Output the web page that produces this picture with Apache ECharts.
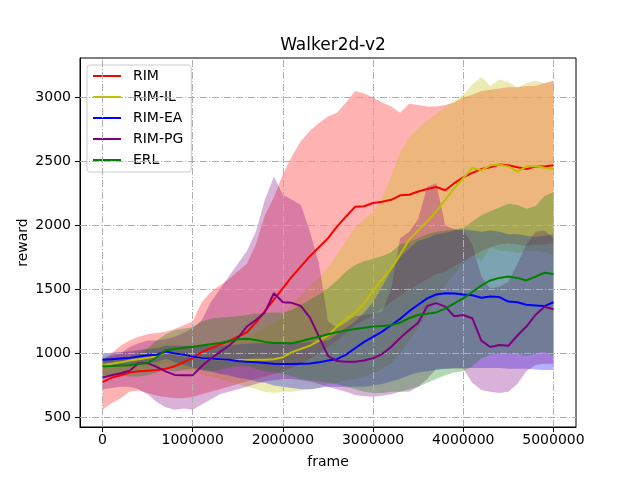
<!DOCTYPE html>
<html>
<head>
<meta charset="utf-8">
<title>Walker2d-v2</title>
<script src="https://cdn.jsdelivr.net/npm/echarts@6/dist/echarts.min.js"></script>
<style>
  html, body { margin: 0; padding: 0; background: #fff; }
  #chart { width: 640px; height: 480px; }
</style>
</head>
<body>
<div id="chart"></div>
<script>
// x positions (frames), one every 100000
const frames = [0, 100000, 200000, 300000, 400000, 500000, 600000, 700000, 800000, 900000,
  1000000, 1100000, 1200000, 1300000, 1400000, 1500000, 1600000, 1700000, 1800000, 1900000,
  2000000, 2100000, 2200000, 2300000, 2400000, 2500000, 2600000, 2700000, 2800000, 2900000,
  3000000, 3100000, 3200000, 3300000, 3400000, 3500000, 3600000, 3700000, 3800000, 3900000,
  4000000, 4100000, 4200000, 4300000, 4400000, 4500000, 4600000, 4700000, 4800000, 4900000, 5000000];

const xTicks = [0, 1000000, 2000000, 3000000, 4000000, 5000000];
const yTicks = [500, 1000, 1500, 2000, 2500, 3000];

// RIM
const rimMean = [775, 810, 830, 850, 860, 865, 870, 880, 900, 930,
  965, 1010, 1040, 1070, 1095, 1130, 1165, 1240, 1330, 1420,
  1510, 1600, 1680, 1760, 1830, 1900, 1990, 2070, 2145, 2150,
  2175, 2185, 2200, 2235, 2240, 2265, 2285, 2300, 2275, 2330,
  2375, 2410, 2440, 2455, 2475, 2470, 2455, 2440, 2460, 2460, 2470];
const rimUpper = [950, 1000, 1060, 1100, 1130, 1150, 1160, 1170, 1190, 1220,
  1250, 1400, 1480, 1530, 1580, 1640, 1700, 1850, 2080, 2220,
  2400, 2540, 2660, 2740, 2800, 2850, 2880, 2960, 3050, 3030,
  3000, 2960, 2930, 2880, 2950, 2940, 2930, 2930, 2940, 2960,
  3000, 3020, 3050, 3060, 3070, 3080, 3080, 3090, 3090, 3110, 3130];
const rimLower = [560, 610, 650, 700, 710, 690, 670, 660, 650, 650,
  660, 680, 700, 720, 740, 760, 780, 800, 820, 840,
  860, 890, 920, 960, 1000, 1050, 1100, 1160, 1220, 1260,
  1300, 1350, 1400, 1450, 1500, 1540, 1580, 1620, 1640, 1680,
  1720, 1760, 1800, 1830, 1850, 1860, 1850, 1840, 1850, 1850, 1860];

// RIM-IL
const ilMean = [910, 920, 930, 945, 955, 965, 975, 1010, 995, 985,
  975, 965, 958, 952, 948, 948, 948, 950, 950, 955,
  970, 1010, 1035, 1060, 1100, 1140, 1210, 1270, 1320, 1390,
  1490, 1580, 1660, 1770, 1890, 1960, 2030, 2110, 2200, 2290,
  2370, 2450, 2430, 2470, 2475, 2460, 2420, 2460, 2465, 2450, 2440];
const ilUpper = [990, 1000, 1010, 1020, 1030, 1040, 1060, 1080, 1070, 1060,
  1060, 1070, 1080, 1090, 1100, 1110, 1130, 1160, 1200, 1240,
  1300, 1380, 1460, 1530, 1590, 1670, 1770, 1880, 1980, 2050,
  2100, 2220, 2380, 2570, 2690, 2760, 2820, 2870, 2930, 2970,
  3020, 3100, 3160, 3090, 3140, 3120, 3080, 3110, 3130, 3110, 3120];
const ilLower = [830, 840, 850, 860, 870, 880, 890, 920, 900, 880,
  860, 840, 820, 800, 780, 760, 740, 720, 700, 690,
  700, 700, 710, 720, 730, 760, 770, 790, 800, 820,
  840, 880, 920, 1000, 1100, 1200, 1300, 1420, 1530, 1620,
  1700, 1780, 1720, 1830, 1800, 1800, 1780, 1800, 1800, 1790, 1770];

// RIM-EA
const eaMean = [950, 955, 960, 965, 975, 985, 990, 1015, 1000, 990,
  975, 965, 960, 955, 950, 940, 935, 930, 925, 920,
  918, 918, 920, 922, 930, 945, 955, 990, 1040, 1090,
  1130, 1170, 1220, 1270, 1330, 1380, 1430, 1460, 1470, 1468,
  1460, 1455, 1435, 1445, 1440, 1405, 1400, 1380, 1375, 1370, 1400];
const eaUpper = [1000, 1005, 1010, 1015, 1025, 1035, 1040, 1060, 1060, 1060,
  1060, 1060, 1060, 1060, 1065, 1070, 1075, 1080, 1080, 1080,
  1080, 1080, 1080, 1090, 1095, 1100, 1150, 1200, 1250, 1320,
  1400, 1520, 1650, 1760, 1820, 1880, 1900, 1930, 1940, 1960,
  1970, 1960, 1950, 1960, 1950, 1930, 1930, 1920, 1910, 1920, 1930];
const eaLower = [900, 905, 910, 915, 920, 925, 930, 960, 930, 910,
  890, 870, 860, 840, 830, 810, 800, 780, 770, 750,
  740, 730, 720, 720, 730, 740, 740, 740, 740, 740,
  750, 760, 780, 800, 830, 850, 860, 870, 880, 885,
  885, 885, 885, 885, 885, 880, 880, 880, 875, 870, 870];

// RIM-PG
const pgMean = [812, 830, 845, 865, 924, 924, 895, 860, 832, 830,
  830, 900, 960, 1010, 1060, 1120, 1210, 1260, 1320, 1470,
  1400, 1395, 1370, 1280, 1130, 980, 940, 935, 935, 945,
  963, 995, 1050, 1120, 1182, 1240, 1370, 1393, 1365, 1290,
  1300, 1275, 1100, 1050, 1065, 1060, 1140, 1210, 1300, 1365, 1345];
const pgUpper = [960, 980, 1000, 1050, 1080, 1100, 1100, 1110, 1130, 1160,
  1200, 1260, 1400, 1500, 1600, 1700, 1800, 1950, 2200, 2380,
  2240, 2200, 2160, 1950, 1700, 1250, 1200, 1240, 1290, 1300,
  1310, 1330, 1500, 1900, 1950, 2050, 2300, 2330, 2000, 1970,
  1960, 1850, 1600, 1510, 1520, 1560, 1700, 1850, 1950, 1960, 1900];
const pgLower = [720, 730, 740, 740, 720, 680, 620, 580, 560, 570,
  560, 600, 640, 680, 700, 720, 740, 760, 780, 790,
  800, 800, 790, 780, 760, 740, 720, 700, 675, 665,
  662, 670, 680, 700, 700, 740, 800, 880, 880, 880,
  880, 770, 715, 700, 690, 700, 760, 860, 910, 920, 920];

// ERL
const erlMean = [900, 902, 905, 908, 920, 925, 970, 1025, 1035, 1045,
  1052, 1062, 1072, 1082, 1095, 1110, 1115, 1105, 1090, 1082,
  1082, 1080, 1095, 1115, 1130, 1150, 1165, 1180, 1190, 1200,
  1210, 1215, 1220, 1240, 1275, 1300, 1310, 1320, 1350, 1390,
  1430, 1480, 1530, 1570, 1590, 1600, 1590, 1570, 1600, 1630, 1620];
const erlUpper = [960, 965, 970, 980, 1000, 1040, 1100, 1150, 1180, 1195,
  1205, 1250, 1270, 1280, 1285, 1290, 1300, 1310, 1315, 1320,
  1320, 1340, 1380, 1420, 1460, 1510, 1570, 1640, 1690, 1720,
  1740, 1760, 1790, 1850, 1870, 1900, 1930, 1950, 1960, 1970,
  1980, 2030, 2080, 2110, 2140, 2170, 2160, 2130, 2150, 2230, 2260];
const erlLower = [830, 830, 830, 820, 820, 830, 850, 870, 860, 870,
  880, 870, 860, 870, 890, 900, 900, 880, 860, 850,
  840, 820, 800, 790, 780, 770, 760, 740, 720, 700,
  690, 690, 700, 700, 720, 740, 770, 800, 830, 850,
  860, 900, 960, 990, 1000, 1000, 1000, 980, 1000, 1010, 980];

const names = ['RIM', 'RIM-IL', 'RIM-EA', 'RIM-PG', 'ERL'];
const colors = ['#ff0000', '#bfbf00', '#0000ff', '#800080', '#008000'];
const fills = ['rgba(255,0,0,0.3)', 'rgba(191,191,0,0.3)', 'rgba(0,0,255,0.3)', 'rgba(128,0,128,0.3)', 'rgba(0,128,0,0.3)'];
const means = [rimMean, ilMean, eaMean, pgMean, erlMean];
const uppers = [rimUpper, ilUpper, eaUpper, pgUpper, erlUpper];
const lowers = [rimLower, ilLower, eaLower, pgLower, erlLower];

const font = 'DejaVu Sans';
const gridDash = [7, 2, 1, 2];

function bandSeries(k) {
    return {
        name: names[k] + ' band',
        type: 'custom',
        silent: true,
        z: 1,
        data: [[frames[0], lowers[k][0]]],
        renderItem: function (params, api) {
            const pts = [];
            for (let i = 0; i < frames.length; i++) pts.push(api.coord([frames[i], uppers[k][i]]));
            for (let i = frames.length - 1; i >= 0; i--) pts.push(api.coord([frames[i], lowers[k][i]]));
            return {type: 'polygon', shape: {points: pts}, style: {fill: fills[k], stroke: null}};
        }
    };
}

function lineSeries(k) {
    return {
        name: names[k],
        type: 'line',
        z: 5,
        symbol: 'none',
        data: frames.map((f, i) => [f, means[k][i]]),
        lineStyle: {color: colors[k], width: 2},
        itemStyle: {color: colors[k]}
    };
}

const series = [];
for (let k = 0; k < 5; k++) series.push(bandSeries(k));
// dash-dot grid, above the bands and below the lines
series.push({
    name: 'grid',
    type: 'line',
    z: 3,
    data: [],
    markLine: {
        silent: true,
        symbol: ['none', 'none'],
        label: {show: false},
        lineStyle: {color: '#b0b0b0', width: 1, type: gridDash},
        data: xTicks.map(v => ({xAxis: v})).concat(yTicks.map(v => ({yAxis: v})))
    }
});
for (let k = 0; k < 5; k++) series.push(lineSeries(k));

let myChart = echarts.init(document.getElementById('chart'));
myChart.setOption({
    animation: false,
    backgroundColor: '#fff',
    title: {
        text: 'Walker2d-v2',
        left: 328,
        top: 32,
        textAlign: 'center',
        textStyle: {fontFamily: font, fontSize: 17, fontWeight: 'normal', color: '#000'}
    },
    legend: {
        data: names,
        orient: 'vertical',
        left: 87,
        top: 65,
        itemWidth: 28,
        itemHeight: 14,
        itemGap: 7,
        itemStyle: {opacity: 0},
        padding: [4, 8, 5, 5],
        backgroundColor: 'rgba(255,255,255,0.8)',
        borderColor: '#cccccc',
        borderWidth: 1,
        borderRadius: 3,
        textStyle: {fontFamily: font, fontSize: 14, color: '#000', padding: [0, 0, 0, 7]}
    },
    grid: {
        left: 80, top: 58, width: 496, height: 369,
        show: true, borderColor: '#000', borderWidth: 1, backgroundColor: 'transparent'
    },
    xAxis: {
        type: 'value',
        min: -250000,
        max: 5250000,
        name: 'frame',
        nameLocation: 'middle',
        nameGap: 28,
        nameTextStyle: {fontFamily: font, fontSize: 14, color: '#000'},
        axisLine: {show: true, onZero: false, lineStyle: {color: '#000'}},
        axisTick: {show: true, length: 5, customValues: xTicks, lineStyle: {color: '#000'}},
        axisLabel: {customValues: xTicks, margin: 6, fontFamily: font, fontSize: 14, color: '#000', formatter: v => String(v)},
        splitLine: {show: false}
    },
    yAxis: {
        type: 'value',
        min: 425,
        max: 3308,
        name: 'reward',
        nameLocation: 'middle',
        nameGap: 50,
        nameMoveOverlap: false,
        nameTextStyle: {fontFamily: font, fontSize: 14, color: '#000'},
        axisLine: {show: true, onZero: false, lineStyle: {color: '#000'}},
        axisTick: {show: true, length: 5, customValues: yTicks, lineStyle: {color: '#000'}},
        axisLabel: {customValues: yTicks, margin: 9, fontFamily: font, fontSize: 14, color: '#000', formatter: v => String(v)},
        splitLine: {show: false}
    },
    series: series
});
</script>
</body>
</html>
